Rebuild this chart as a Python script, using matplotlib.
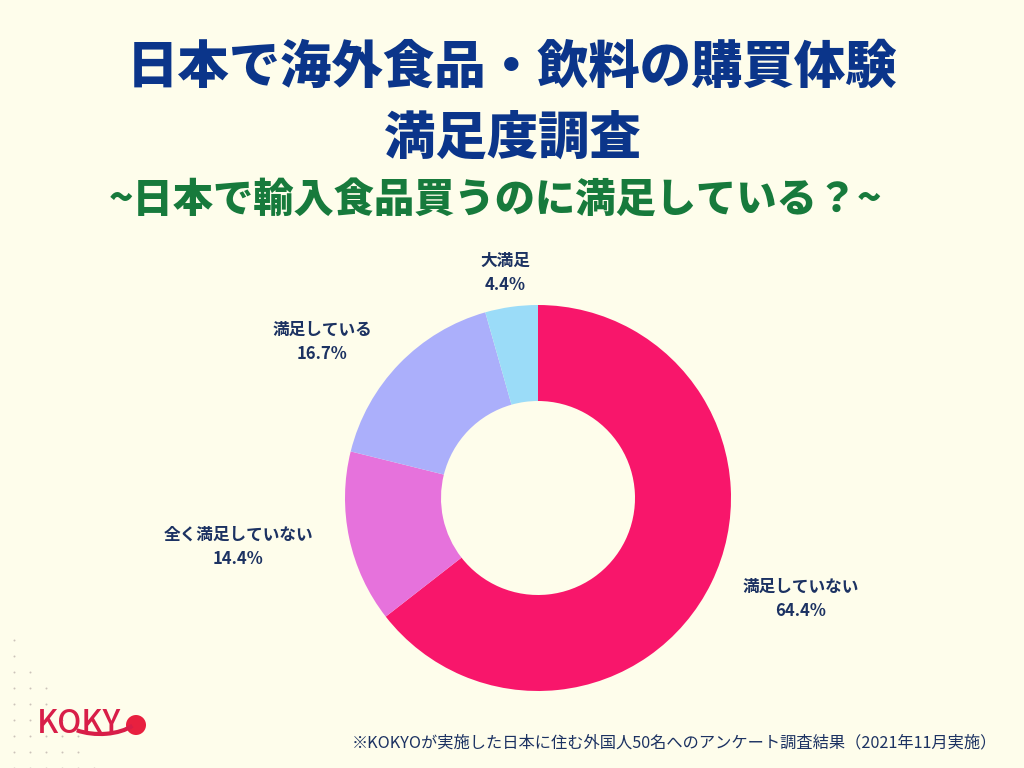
import matplotlib.pyplot as plt
import numpy as np
from matplotlib.patches import Arc, Circle

plt.rcParams['font.family'] = ['Noto Sans CJK JP', 'DejaVu Sans']

# データ
categories = ['満足していない', '全く満足していない', '満足している', '大満足']
values = [64.4, 14.4, 16.7, 4.4]
colors = ['#F8166B', '#E672DC', '#ABAFFB', '#9BDCF8']
# ラベル位置（画像ピクセル座標、上から）
label_pos = [(801, 599), (238, 547), (322, 342), (505, 273)]

bg = '#FEFDEB'
navy = '#1C3262'
H = 768

fig = plt.figure(figsize=(10.24, 7.68), dpi=100, facecolor=bg)
ax = fig.add_axes([0, 0, 1, 1])

# ドーナツグラフ（時計回り、上から開始）
ax.pie(values, colors=colors, startangle=90, counterclock=False,
       center=(538, H - 498), radius=193,
       wedgeprops=dict(width=96, linewidth=0), frame=True)
ax.set_xlim(0, 1024)
ax.set_ylim(0, H)
ax.set_aspect('equal')
ax.axis('off')

for cat, val, (x, y) in zip(categories, values, label_pos):
    ax.text(x, H - y + 12, cat, ha='center', va='center', fontsize=12,
            fontweight='bold', color=navy)
    ax.text(x, H - y - 12, f'{val}%', ha='center', va='center', fontsize=12,
            fontweight='bold', color=navy)

# タイトル
fig.text(0.5, 1 - 68 / H, '日本で海外食品・飲料の購買体験', ha='center', va='center',
         fontsize=37, fontweight='heavy', color='#0B358A')
fig.text(0.5, 1 - 138 / H, '満足度調査', ha='center', va='center',
         fontsize=37, fontweight='heavy', color='#0B358A')
fig.text(0.484, 1 - 200 / H, '~日本で輸入食品買うのに満足している？~', ha='center', va='center',
         fontsize=29, fontweight='heavy', color='#177A3C')

# 注記
fig.text(997 / 1024, 1 - 743 / H,
         '※KOKYOが実施した日本に住む外国人50名へのアンケート調査結果（2021年11月実施）',
         ha='right', va='center', fontsize=11.7, color=navy)

# ロゴ
ax.text(37, H - 724, 'KOKY', ha='left', va='center', fontsize=23,
        fontweight='medium', color='#D81E48')
ax.add_patch(Circle((136, H - 725), 10, color='#E8203F', lw=0))
ax.add_patch(Arc((100, H - 714), 80, 40, theta1=215, theta2=340,
                 color='#D81E48', lw=3))

# 左下のドット模様
dx, dy = np.meshgrid(np.arange(0, 6), np.arange(0, 9))
px = 14 + dx.ravel() * 16
py = 640 + dy.ravel() * 16
keep = dx.ravel() <= dy.ravel() * 0.7
ax.scatter(px[keep], H - py[keep], s=2, color='#9A8A8A', alpha=0.5, linewidths=0)

fig.savefig('out.png', dpi=100, facecolor=bg)
